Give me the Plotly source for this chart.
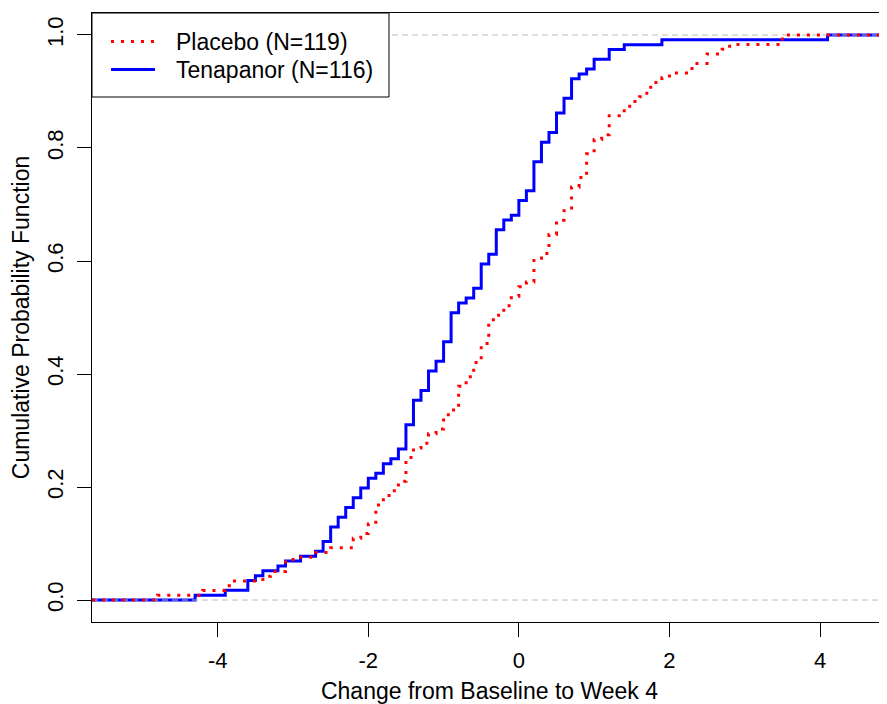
import numpy as np
import plotly.graph_objects as go

# ---- data (change values, number of patients at each value) ----
placebo_values = [-4.8, -4.2, -3.9, -3.8, -3.4, -3.3, -3.1, -3.0, -2.7, -2.5, -2.2, -2.1, -2.0,
                  -1.9, -1.8, -1.7, -1.6, -1.5, -1.4, -1.3, -1.2, -1.1, -1.0, -0.9, -0.8, -0.7,
                  -0.6, -0.5, -0.4, -0.3, -0.2, -0.1, 0.0, 0.1, 0.2, 0.3, 0.4, 0.5, 0.6, 0.7,
                  0.8, 0.9, 1.0, 1.1, 1.2, 1.4, 1.5, 1.6, 1.7, 1.8, 1.9, 2.0, 2.3, 2.5, 2.7,
                  2.8, 3.5]
placebo_counts = [1, 1, 1, 1, 1, 1, 2, 1, 1, 1, 2, 1, 2,
                  4, 2, 1, 2, 5, 2, 1, 2, 1, 3, 1, 5, 2,
                  3, 4, 5, 1, 2, 2, 2, 1, 5, 1, 4, 3, 2, 5,
                  2, 5, 3, 1, 4, 2, 1, 1, 2, 1, 1, 1, 2, 2, 1,
                  1, 2]

tenapanor_values = [-4.3, -3.9, -3.6, -3.5, -3.4, -3.2, -3.1, -2.9, -2.7, -2.6, -2.5, -2.4, -2.3,
                    -2.2, -2.1, -2.0, -1.9, -1.8, -1.7, -1.6, -1.5, -1.4, -1.3, -1.2, -1.1, -1.0,
                    -0.9, -0.8, -0.7, -0.6, -0.5, -0.4, -0.3, -0.2, -0.1, 0.0, 0.1, 0.2, 0.3,
                    0.4, 0.5, 0.6, 0.7, 0.8, 0.9, 1.0, 1.2, 1.4, 1.9, 4.1]
tenapanor_counts = [1, 1, 2, 1, 1, 1, 1, 1, 1, 2, 3, 2, 2,
                    2, 2, 2, 1, 2, 1, 2, 5, 5, 2, 4, 2, 4,
                    6, 2, 1, 2, 5, 2, 5, 2, 1, 3, 2, 6, 4,
                    2, 4, 3, 4, 1, 1, 2, 2, 1, 1, 1]

series_names = ["Placebo (N=119)", "Tenapanor (N=116)"]
x_tick_values = [-4, -2, 0, 2, 4]
x_tick_labels = ["-4", "-2", "0", "2", "4"]
y_tick_values = [0.0, 0.2, 0.4, 0.6, 0.8, 1.0]

x_title = "Change from Baseline to Week 4"
y_title = "Cumulative Probability Function"

# ---- layout constants (page body has an 8px margin, compensated here) ----
OFF = 8
W, H = 887 - OFF, 704 - OFF
ML, MR, MT, MB = 92 - OFF, 0, 13 - OFF, 82
X_RANGE = [-5.67, 4.89]
Y_RANGE = [-0.0389, 1.0389]
FONT = "Liberation Sans, Arial, sans-serif"
RED = "#FF0000"
BLUE = "#0000FF"
GRAY = "#BEBEBE"
DOT = "3px,7px"


def ecdf_path(values, counts):
    cum = np.cumsum(counts) / np.sum(counts)
    xs = [X_RANGE[0]] + list(values) + [X_RANGE[1]]
    ys = [0.0] + list(cum) + [1.0]
    return xs, ys


fig = go.Figure()

tx, ty = ecdf_path(tenapanor_values, tenapanor_counts)
fig.add_trace(go.Scatter(x=tx, y=ty, mode="lines", line=dict(color=BLUE, width=3, shape="hv"),
                         name=series_names[1], showlegend=False, hoverinfo="skip"))

# reference lines at 0 and 1 (drawn over the first curve, as in the original)
fig.add_trace(go.Scatter(x=[X_RANGE[0], X_RANGE[1], None, X_RANGE[0], X_RANGE[1]],
                         y=[0, 0, None, 1, 1], mode="lines",
                         line=dict(color=GRAY, width=1, dash="6px,4px"),
                         showlegend=False, hoverinfo="skip"))

px_, py_ = ecdf_path(placebo_values, placebo_counts)
fig.add_trace(go.Scatter(x=px_, y=py_, mode="lines",
                         line=dict(color=RED, width=3, shape="hv", dash=DOT),
                         name=series_names[0], showlegend=False, hoverinfo="skip"))

plot_w = W - ML - MR
plot_h = H - MT - MB


# helpers: convert target-screen pixel positions into paper coordinates
def pxx(p):
    return (p - OFF - ML) / plot_w


def pxy(p):
    return (H - MB - (p - OFF)) / plot_h


# legend drawn as a boxed key in the top-left corner
shapes = [
    dict(type="rect", xref="paper", yref="paper", x0=pxx(92), x1=pxx(389), y0=pxy(97), y1=pxy(13),
         line=dict(color="black", width=1), fillcolor="white", layer="above"),
    dict(type="line", xref="paper", yref="paper", x0=pxx(111), x1=pxx(155), y0=pxy(41.5), y1=pxy(41.5),
         line=dict(color=RED, width=3, dash=DOT), layer="above"),
    dict(type="line", xref="paper", yref="paper", x0=pxx(111), x1=pxx(155), y0=pxy(69.5), y1=pxy(69.5),
         line=dict(color=BLUE, width=3), layer="above"),
]
annotations = [
    dict(xref="paper", yref="paper", x=pxx(174), y=pxy(41.5), text=series_names[0], showarrow=False,
         xanchor="left", yanchor="middle", font=dict(family=FONT, size=23, color="black")),
    dict(xref="paper", yref="paper", x=pxx(174), y=pxy(69.5), text=series_names[1], showarrow=False,
         xanchor="left", yanchor="middle", font=dict(family=FONT, size=23, color="black")),
]

fig.update_layout(
    width=W, height=H,
    margin=dict(l=ML, r=MR, t=MT, b=MB, pad=0),
    paper_bgcolor="white", plot_bgcolor="white",
    font=dict(family=FONT, size=22, color="black"),
    shapes=shapes, annotations=annotations,
    showlegend=False,
    xaxis=dict(range=X_RANGE, tickmode="array", tickvals=x_tick_values, ticktext=x_tick_labels,
               ticks="outside", ticklen=14, tickwidth=1, tickcolor="black",
               showline=True, linecolor="black", linewidth=1, mirror=True,
               showgrid=False, zeroline=False, automargin=False,
               ticklabelstandoff=5,
               tickfont=dict(family=FONT, size=22),
               title=dict(text=x_title, font=dict(family=FONT, size=23), standoff=12)),
    yaxis=dict(range=Y_RANGE, tickmode="array", tickvals=y_tick_values, tickformat=".1f",
               tickangle=-90, ticks="outside", ticklen=14, tickwidth=1, tickcolor="black",
               showline=True, linecolor="black", linewidth=1, mirror=False,
               showgrid=False, zeroline=False, automargin=False,
               ticklabelstandoff=5,
               tickfont=dict(family=FONT, size=22),
               title=dict(text=y_title, font=dict(family=FONT, size=23), standoff=8)),
)

fig.write_html("out.html")
